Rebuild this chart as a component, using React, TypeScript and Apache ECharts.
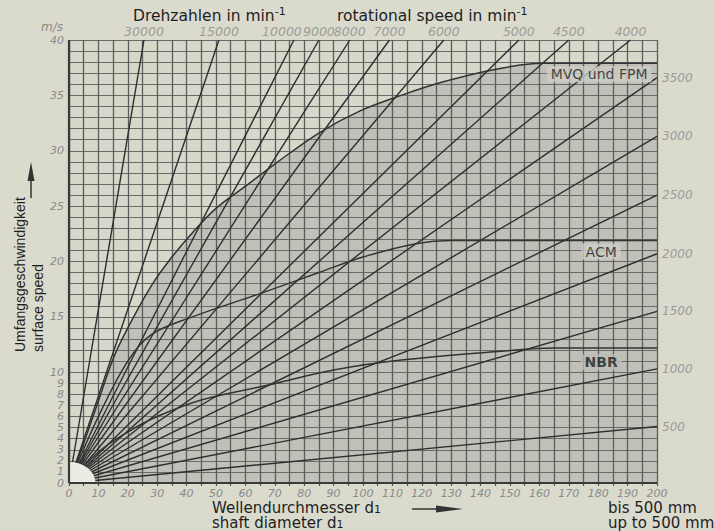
import React, { useEffect, useRef } from "react";
import * as echarts from "echarts";

// ---- data ----
// rotational speeds whose lines leave the chart through the top edge (40 m/s)
const topRpm = [30000, 15000, 10000, 9000, 8000, 7000, 6000, 5000, 4500, 4000];
// shaft diameter (mm) where each of those lines reaches 40 m/s
const topEndDiameter = [25.5, 51, 76.5, 85, 95.5, 109, 127.5, 153, 170, 191];
// rotational speeds whose lines leave the chart through the right edge (200 mm)
const rightRpm = [3500, 3000, 2500, 2000, 1500, 1000, 500];
// surface speed (m/s) of those lines at 200 mm
const rightEndSpeed = [36.6, 31.3, 26.0, 20.7, 15.5, 10.3, 5.1];

// limit curves (diameter mm / surface speed m/s)
const mvqDiameter = [0, 5, 10, 15, 20, 28, 35, 42, 50, 60, 70, 85, 99, 113, 127, 144, 161, 200];
const mvqSpeed = [0, 3.6, 7.4, 11.2, 14.0, 17.8, 20.4, 22.6, 24.8, 26.8, 28.8, 31.6, 33.6, 35.0, 36.2, 37.3, 37.9, 37.9];
const acmDiameter = [0, 10, 20, 28, 42, 65, 85, 100, 118, 130, 200];
const acmSpeed = [0, 6, 11, 13.4, 15.0, 17.1, 19.0, 20.4, 21.6, 21.9, 21.9];
const nbrDiameter = [0, 10, 20, 30, 45, 67, 90, 113, 147, 165, 200];
const nbrSpeed = [0, 2.8, 4.6, 6.0, 7.5, 8.8, 10.2, 11.1, 11.9, 12.2, 12.2];
const curveNames = ["MVQ und FPM", "ACM", "NBR"];

// axis ranges / ticks
const xMax = 200;
const yMax = 40;
const xLabelStep = 10;
const yFineLimit = 10;
const yLabelStep = 5;

// ---- layout / style constants ----
const PAGE_BG = "#dadacd";
const PLOT_BG = "#d7d7ca";
const SHADE = "#c0c0b8";
const INK = "#2e2e2e";
const TICK_GRAY = "#8a8a8a";
const labelAnchors = [
  [180.3, 36.9],
  [181, 20.9],
  [181, 10.9],
];
const labelBoxColors = ["#cdcdc6", "#cdcdc6", "#bdbdb7"];
const blobSize = [9, 1.9];

const pairs = (xs: number[], ys: number[]) => xs.map((x, i) => [x, ys[i]]);

export default function App() {
  const ref = useRef<HTMLDivElement>(null);

  useEffect(() => {
    const chart = echarts.init(ref.current!, null, { renderer: "svg" });

    const rpmLines = [
      ...topRpm.map((r, i) => ({ coords: [[0, 0], [topEndDiameter[i], yMax]] })),
      ...rightRpm.map((r, i) => ({ coords: [[0, 0], [xMax, rightEndSpeed[i]]] })),
    ];

    const tickFont = { fontFamily: "DejaVu Sans", fontStyle: "italic" as const, color: TICK_GRAY };
    const hidden = { color: "rgba(0,0,0,0)" };

    const curveSeries = [
      pairs(mvqDiameter, mvqSpeed),
      pairs(acmDiameter, acmSpeed),
      pairs(nbrDiameter, nbrSpeed),
    ].map((d) => ({
      type: "line",
      data: d,
      smooth: 0.35,
      symbol: "none",
      z: 4,
      silent: true,
      lineStyle: { color: "#333", width: 1.5 },
    }));

    const bottomRich = {
      m: { fontSize: 15, fontFamily: "DejaVu Sans", fill: "#1e1e1e", lineHeight: 15, verticalAlign: "top" },
      sub: { fontSize: 11, fontFamily: "DejaVu Sans", fill: "#1e1e1e", lineHeight: 15, verticalAlign: "bottom" },
    };

    const option: any = {
      animation: false,
      backgroundColor: "transparent",
      grid: {
        left: 69,
        right: 57,
        top: 40,
        bottom: 48,
        show: true,
        backgroundColor: PLOT_BG,
        borderWidth: 0,
      },
      xAxis: {
        type: "value",
        min: 0,
        max: xMax,
        interval: 5,
        z: 3,
        axisLine: { show: false },
        axisTick: { show: true, length: 3, lineStyle: { color: "#555", width: 1.2 } },
        axisLabel: {
          ...tickFont,
          fontSize: 11,
          lineHeight: 11,
          margin: 5,
          showMinLabel: true,
          formatter: (v: number) => (v % xLabelStep === 0 ? String(v) : ""),
        },
        splitLine: { show: true, lineStyle: { color: "#5c5c5c", width: 1.3 } },
      },
      yAxis: {
        type: "value",
        min: 0,
        max: yMax,
        interval: 1,
        z: 3,
        axisLine: { show: false },
        axisTick: { show: false },
        axisLabel: {
          ...tickFont,
          fontSize: 11,
          lineHeight: 10,
          margin: 5,
          showMinLabel: true,
          formatter: (v: number) => (v <= yFineLimit || v % yLabelStep === 0 ? String(v) : ""),
        },
        splitLine: { show: true, lineStyle: { color: "#6a6a6a", width: 1 } },
      },
      series: [
        {
          type: "line",
          data: pairs(mvqDiameter, mvqSpeed),
          smooth: 0.35,
          symbol: "none",
          z: 1,
          silent: true,
          lineStyle: { width: 0 },
          areaStyle: { color: SHADE, opacity: 1 },
        },
        {
          type: "lines",
          coordinateSystem: "cartesian2d",
          data: rpmLines,
          z: 4,
          silent: true,
          lineStyle: { color: INK, width: 1.4, opacity: 1 },
        },
        ...curveSeries,
        {
          type: "custom",
          z: 6,
          silent: true,
          data: [[0, 0]],
          renderItem: (params: any, api: any) => {
            const c = api.coord([0, 0]);
            const ex = api.coord([blobSize[0], 0]);
            const ey = api.coord([0, blobSize[1]]);
            const rx = ex[0] - c[0];
            const ry = c[1] - ey[1];
            const pts: number[][] = [];
            for (let i = 0; i <= 30; i++) {
              const a = ((Math.PI / 2) * i) / 30;
              pts.push([c[0] + rx * Math.cos(a), c[1] - ry * Math.sin(a)]);
            }
            pts.push([c[0], c[1]]);
            return { type: "polygon", shape: { points: pts }, style: { fill: "#ececE4" } };
          },
        },
        {
          type: "lines",
          coordinateSystem: "cartesian2d",
          z: 7,
          silent: true,
          data: [
            { coords: [[0, 0], [0, yMax]] },
            { coords: [[0, 0], [xMax, 0]] },
          ],
          lineStyle: { color: "#3a3a3a", width: 2.2, opacity: 1 },
        },
        {
          type: "scatter",
          z: 8,
          silent: true,
          symbolSize: 2,
          itemStyle: hidden,
          data: topRpm.map((r, i) => ({
            value: [topEndDiameter[i], yMax, r],
            label: r === 10000 ? { offset: [-12, 0] } : undefined,
          })),
          label: {
            show: true,
            position: "top",
            distance: 1,
            ...tickFont,
            fontSize: 12.5,
            formatter: (p: any) => String(p.value[2]),
          },
        },
        {
          type: "scatter",
          z: 8,
          silent: true,
          symbolSize: 2,
          itemStyle: hidden,
          data: rightRpm.map((r, i) => [xMax, rightEndSpeed[i], r]),
          label: {
            show: true,
            position: "right",
            distance: 4,
            ...tickFont,
            fontSize: 12,
            formatter: (p: any) => String(p.value[2]),
          },
        },
        {
          type: "scatter",
          z: 9,
          silent: true,
          symbolSize: 2,
          itemStyle: hidden,
          data: curveNames.map((n, i) => ({
            value: [labelAnchors[i][0], labelAnchors[i][1]],
            name: n,
            label: {
              backgroundColor: labelBoxColors[i],
              fontWeight: i === 2 ? "bold" : "normal",
            },
          })),
          label: {
            show: true,
            position: "inside",
            fontFamily: "DejaVu Sans",
            fontSize: 14,
            color: "#1e1e1e",
            padding: [1, 4, 1, 4],
            formatter: (p: any) => p.name,
          },
        },
      ],
      graphic: [
        {
          type: "text",
          x: 52,
          y: 27,
          style: {
            text: "m/s",
            font: "italic 12px 'DejaVu Sans'",
            fill: TICK_GRAY,
            textAlign: "center",
            textVerticalAlign: "middle",
          },
        },
        {
          type: "text",
          x: 133,
          y: 16,
          style: {
            text: "Drehzahlen in min{sup|-1}",
            fontSize: 15.5,
            fontFamily: "DejaVu Sans",
            fill: "#1e1e1e",
            lineHeight: 20,
            textAlign: "left",
            textVerticalAlign: "middle",
            rich: { sup: { fontSize: 11, fontFamily: "DejaVu Sans", fill: "#1e1e1e", verticalAlign: "top" } },
          },
        },
        {
          type: "text",
          x: 337,
          y: 16,
          style: {
            text: "rotational speed in min{sup|-1}",
            fontSize: 15.5,
            fontFamily: "DejaVu Sans",
            fill: "#1e1e1e",
            lineHeight: 20,
            textAlign: "left",
            textVerticalAlign: "middle",
            rich: { sup: { fontSize: 11, fontFamily: "DejaVu Sans", fill: "#1e1e1e", verticalAlign: "top" } },
          },
        },
        {
          type: "text",
          x: 20,
          y: 352,
          rotation: Math.PI / 2,
          style: {
            text: "Umfangsgeschwindigkeit",
            font: "14px 'Liberation Sans'",
            fill: "#1e1e1e",
            textAlign: "left",
            textVerticalAlign: "middle",
          },
        },
        {
          type: "text",
          x: 38,
          y: 352,
          rotation: Math.PI / 2,
          style: {
            text: "surface speed",
            font: "14px 'Liberation Sans'",
            fill: "#1e1e1e",
            textAlign: "left",
            textVerticalAlign: "middle",
          },
        },
        {
          type: "line",
          shape: { x1: 31, y1: 198, x2: 31, y2: 178 },
          style: { stroke: "#333", lineWidth: 1.5 },
        },
        {
          type: "polygon",
          shape: { points: [[31, 162], [27.5, 181], [34.5, 181]] },
          style: { fill: "#333" },
        },
        {
          type: "text",
          x: 212,
          y: 500,
          style: {
            text: "{m|Wellendurchmesser d}{sub|1}\n{m|shaft diameter d}{sub|1}",
            fontSize: 15,
            fontFamily: "DejaVu Sans",
            fill: "#1e1e1e",
            lineHeight: 15,
            textAlign: "left",
            textVerticalAlign: "top",
            rich: bottomRich,
          },
        },
        {
          type: "line",
          shape: { x1: 412, y1: 509, x2: 440, y2: 509 },
          style: { stroke: "#333", lineWidth: 1.5 },
        },
        {
          type: "polygon",
          shape: { points: [[463, 509], [436, 505.5], [436, 512.5]] },
          style: { fill: "#333" },
        },
        {
          type: "text",
          x: 608,
          y: 500,
          style: {
            text: "bis 500 mm\nup to 500 mm",
            font: "15px 'DejaVu Sans'",
            fill: "#1e1e1e",
            lineHeight: 15,
            textAlign: "left",
            textVerticalAlign: "top",
          },
        },
      ],
    };

    chart.setOption(option);
    return () => chart.dispose();
  }, []);

  return (
    <div style={{ position: "fixed", left: 0, top: 0, width: 714, height: 531, background: PAGE_BG }}>
      <div ref={ref} style={{ width: 714, height: 531 }} />
    </div>
  );
}
